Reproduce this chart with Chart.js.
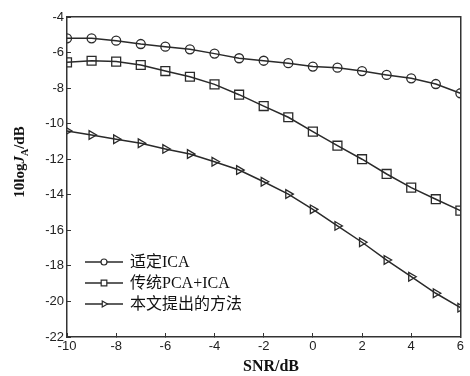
<!DOCTYPE html>
<html>
<head>
<meta charset="utf-8">
<script src="https://cdn.jsdelivr.net/npm/chart.js@4"></script>
<style>
  html, body { margin: 0; padding: 0; background: #fff; }
  #wrap { width: 470px; height: 376px; }
</style>
</head>
<body>
<div id="wrap"><canvas id="c" width="470" height="376"></canvas></div>
<script>
const snr = [-10, -9, -8, -7, -6, -5, -4, -3, -2, -1, 0, 1, 2, 3, 4, 5, 6];
const icaVals = [-5.20, -5.20, -5.33, -5.52, -5.67, -5.82, -6.06, -6.32, -6.46, -6.60, -6.79, -6.85, -7.04, -7.26, -7.45, -7.77, -8.29];
const pcaIcaVals = [-6.55, -6.46, -6.51, -6.70, -7.04, -7.36, -7.79, -8.37, -9.01, -9.64, -10.45, -11.24, -12.00, -12.83, -13.60, -14.25, -14.89];
const proposedVals = [-10.41, -10.64, -10.88, -11.10, -11.42, -11.71, -12.14, -12.61, -13.27, -13.96, -14.82, -15.75, -16.67, -17.67, -18.61, -19.54, -20.35];
const seriesNames = ['适定ICA', '传统PCA+ICA', '本文提出的方法'];
const xTitle = 'SNR/dB';

const ink = '#2a2a2a';
const frameColor = '#333';
const serif = '"Liberation Serif", "DejaVu Serif", "Noto Sans CJK SC", serif';

function pts(vals) { return vals.map((v, i) => ({ x: snr[i], y: v })); }
function ds(label, vals, style, radius, rotation) {
  return {
    label, data: pts(vals), borderColor: ink, backgroundColor: 'transparent',
    borderWidth: 1.5, pointStyle: style, pointRadius: radius, pointRotation: rotation || 0,
    pointBorderColor: ink, pointBackgroundColor: 'transparent', pointBorderWidth: 1.3, tension: 0
  };
}

// y title, x title and the in-plot legend
const decor = {
  id: 'decor',
  afterDraw(chart) {
    const ctx = chart.ctx;
    ctx.save();
    ctx.save();
    ctx.translate(20, 162);
    ctx.rotate(-Math.PI / 2);
    ctx.fillStyle = '#111';
    ctx.textBaseline = 'middle';
    const p1 = '10log', p2 = 'J', p3 = 'A', p4 = '/dB';
    ctx.font = 'bold 15px ' + serif; const w1 = ctx.measureText(p1).width;
    ctx.font = 'bold italic 15px ' + serif; const w2 = ctx.measureText(p2).width;
    ctx.font = 'bold 10px ' + serif; const w3 = ctx.measureText(p3).width;
    ctx.font = 'bold 15px ' + serif; const w4 = ctx.measureText(p4).width;
    let x = -(w1 + w2 + w3 + w4) / 2;
    ctx.font = 'bold 15px ' + serif; ctx.fillText(p1, x, 0); x += w1;
    ctx.font = 'bold italic 15px ' + serif; ctx.fillText(p2, x, 0); x += w2;
    ctx.font = 'bold 10px ' + serif; ctx.fillText(p3, x, 5); x += w3;
    ctx.font = 'bold 15px ' + serif; ctx.fillText(p4, x, 0);
    ctx.restore();

    ctx.fillStyle = '#111';
    ctx.font = 'bold 16px ' + serif;
    ctx.textAlign = 'center'; ctx.textBaseline = 'middle';
    ctx.fillText(xTitle, 271, 367);

    const styles = [['circle', 3, 0], ['rect', 4, 0], ['triangle', 3.5, 90]];
    ctx.textAlign = 'left';
    ctx.font = '16px ' + serif;
    chart.data.datasets.forEach((d, i) => {
      const y = 262 + i * 21;
      ctx.fillStyle = '#111';
      ctx.fillText(seriesNames[i], 130, y + 1);
      ctx.strokeStyle = ink; ctx.lineWidth = 1.5;
      ctx.beginPath(); ctx.moveTo(85, y); ctx.lineTo(123, y); ctx.stroke();
      ctx.fillStyle = '#fff';
      ctx.lineWidth = 1.2;
      Chart.helpers.drawPoint(ctx, { pointStyle: styles[i][0], radius: styles[i][1], rotation: styles[i][2], borderWidth: 1.2 }, 104, y);
    });
    ctx.restore();
  }
};

const tickFont = { family: 'Liberation Sans, Arial', size: 13 };
// inward tick marks: grid only at the edge, negative tick length
const edgeGrid = { display: true, drawOnChartArea: false, drawTicks: true, tickLength: -4, color: frameColor, lineWidth: 1 };
const frameBorder = { display: true, color: frameColor, width: 1.5 };

new Chart(document.getElementById('c'), {
  type: 'line',
  data: {
    datasets: [
      ds(seriesNames[0], icaVals, 'circle', 4.5),
      ds(seriesNames[1], pcaIcaVals, 'rect', 6.3),
      ds(seriesNames[2], proposedVals, 'triangle', 5, 90)
    ]
  },
  options: {
    responsive: false, animation: false, devicePixelRatio: 1,
    layout: { padding: { top: 17, right: 5, left: 0, bottom: 0 } },
    plugins: { legend: { display: false }, tooltip: { enabled: false } },
    scales: {
      x: {
        type: 'linear', position: 'bottom', min: -10, max: 6,
        grid: edgeGrid, border: frameBorder,
        ticks: { stepSize: 2, color: '#222', padding: 6, font: tickFont, maxRotation: 0 },
        afterFit: s => { s.height = 39; }
      },
      y: {
        type: 'linear', position: 'left', min: -22, max: -4,
        grid: edgeGrid, border: frameBorder,
        ticks: { stepSize: 2, color: '#222', padding: 7, font: tickFont },
        afterFit: s => { s.width = 67; }
      },
      xTop: {
        type: 'linear', position: 'top', min: -10, max: 6,
        grid: { display: false }, border: frameBorder,
        ticks: { display: false },
        afterFit: s => { s.height = 0; }
      },
      yRight: {
        type: 'linear', position: 'right', min: -22, max: -4,
        grid: { display: false }, border: frameBorder,
        ticks: { display: false },
        afterFit: s => { s.width = 0; }
      }
    }
  },
  plugins: [decor]
});
</script>
</body>
</html>
